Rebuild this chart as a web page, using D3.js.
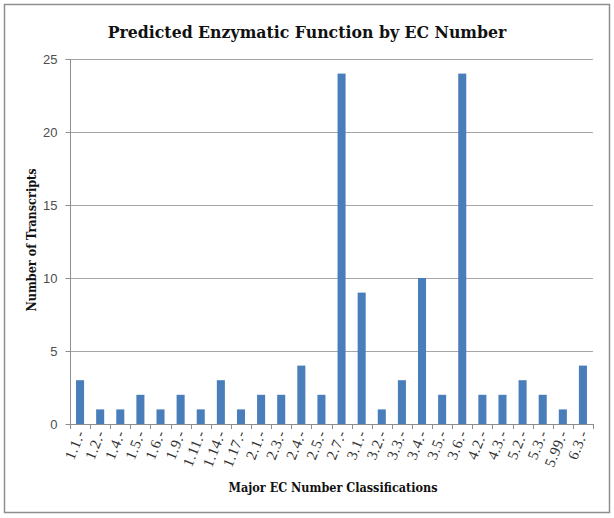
<html>
<head>
<script src="https://cdnjs.cloudflare.com/ajax/libs/d3/7.8.5/d3.min.js"></script>
<style>
  body { margin: 0; background: #fff; }
</style>
</head>
<body>
<div id="chart"></div>
<script>
// EC classes and transcript counts
var categories = ["1.1.-","1.2.-","1.4.-","1.5.-","1.6.-","1.9.-","1.11.-","1.14.-","1.17.-","2.1.-","2.3.-","2.4.-","2.5.-","2.7.-","3.1.-","3.2.-","3.3.-","3.4.-","3.5.-","3.6.-","4.2.-","4.3.-","5.2.-","5.3.-","5.99.-","6.3.-"]
var counts = [3,1,1,2,1,2,1,3,1,2,2,4,2,24,9,1,3,10,2,24,2,2,3,2,1,4]
var yTicks = [0,5,10,15,20,25]

var width = 614, height = 518
var plotL = 70, plotR = 593, plotT = 59, plotB = 424

var svg = d3.select("#chart").append("svg")
  .attr("width", width)
  .attr("height", height)

// outer frame
svg.append("rect")
  .attr("x", 4.5).attr("y", 4.5)
  .attr("width", 605).attr("height", 508)
  .attr("fill", "#fff")
  .attr("stroke", "#8e8e8e")
  .attr("stroke-width", 1.5)

var x = d3.scaleBand().domain(categories).range([plotL, plotR]).paddingInner(0.6).paddingOuter(0.3)
var y = d3.scaleLinear().domain([0, 25]).range([plotB, plotT])

// gridlines
svg.append("g").selectAll("line").data(yTicks.slice(1)).enter().append("line")
  .attr("x1", plotL).attr("x2", plotR)
  .attr("y1", function(d){ return Math.round(y(d)) + 0.5 })
  .attr("y2", function(d){ return Math.round(y(d)) + 0.5 })
  .attr("stroke", "#a6a6a6")

// bars
svg.append("g").selectAll("rect").data(counts).enter().append("rect")
  .attr("x", function(d, i){ return x(categories[i]) })
  .attr("y", function(d){ return y(d) })
  .attr("width", x.bandwidth())
  .attr("height", function(d){ return plotB - y(d) })
  .attr("fill", "#4a7ebb")

// y axis
var yAxis = svg.append("g")
  .attr("transform", "translate(" + (plotL + 0.5) + ",0)")
  .call(d3.axisLeft(y).tickValues(yTicks).tickSize(5).tickPadding(8))
yAxis.select(".domain").attr("stroke", "#8e8e8e").attr("d", "M0," + plotT + "V" + plotB)
yAxis.selectAll(".tick line").attr("stroke", "#8e8e8e")
yAxis.selectAll("text")
  .attr("font-family", "Liberation Sans, Arial, sans-serif")
  .attr("font-size", 13)
  .attr("fill", "#4d4d4d")

// x axis baseline and ticks at band edges
var step = (plotR - plotL) / categories.length
var xAxis = svg.append("g")
xAxis.append("line")
  .attr("x1", plotL).attr("x2", plotR)
  .attr("y1", plotB + 0.5).attr("y2", plotB + 0.5)
  .attr("stroke", "#8e8e8e")
xAxis.selectAll(".edge").data(d3.range(categories.length + 1)).enter().append("line")
  .attr("class", "edge")
  .attr("x1", function(i){ return Math.round(plotL + i * step) + 0.5 })
  .attr("x2", function(i){ return Math.round(plotL + i * step) + 0.5 })
  .attr("y1", plotB).attr("y2", plotB + 5)
  .attr("stroke", "#8e8e8e")

xAxis.selectAll(".lbl").data(categories).enter().append("text")
  .attr("class", "lbl")
  .attr("transform", function(d){
    return "translate(" + (x(d) + x.bandwidth() / 2 + 5) + "," + (plotB + 9) + ") rotate(-68)"
  })
  .attr("text-anchor", "end")
  .attr("font-family", "Liberation Serif, serif")
  .attr("font-size", 15)
  .attr("letter-spacing", 0.5)
  .attr("fill", "#333")
  .text(function(d){ return d })

// titles
svg.append("text")
  .attr("x", 307).attr("y", 38)
  .attr("text-anchor", "middle")
  .attr("font-family", "DejaVu Serif Condensed, Liberation Serif, serif")
  .attr("font-weight", "bold")
  .attr("font-size", 17.5)
  .attr("fill", "#111")
  .text("Predicted Enzymatic Function by EC Number")

svg.append("text")
  .attr("x", 333).attr("y", 492)
  .attr("text-anchor", "middle")
  .attr("font-family", "DejaVu Serif Condensed, Liberation Serif, serif")
  .attr("font-weight", "bold")
  .attr("font-size", 12.5)
  .attr("fill", "#111")
  .text("Major EC Number Classifications")

svg.append("text")
  .attr("transform", "translate(36,240) rotate(-90)")
  .attr("text-anchor", "middle")
  .attr("font-family", "DejaVu Serif Condensed, Liberation Serif, serif")
  .attr("font-weight", "bold")
  .attr("font-size", 12.5)
  .attr("fill", "#111")
  .text("Number of Transcripts")
</script>
</body>
</html>
